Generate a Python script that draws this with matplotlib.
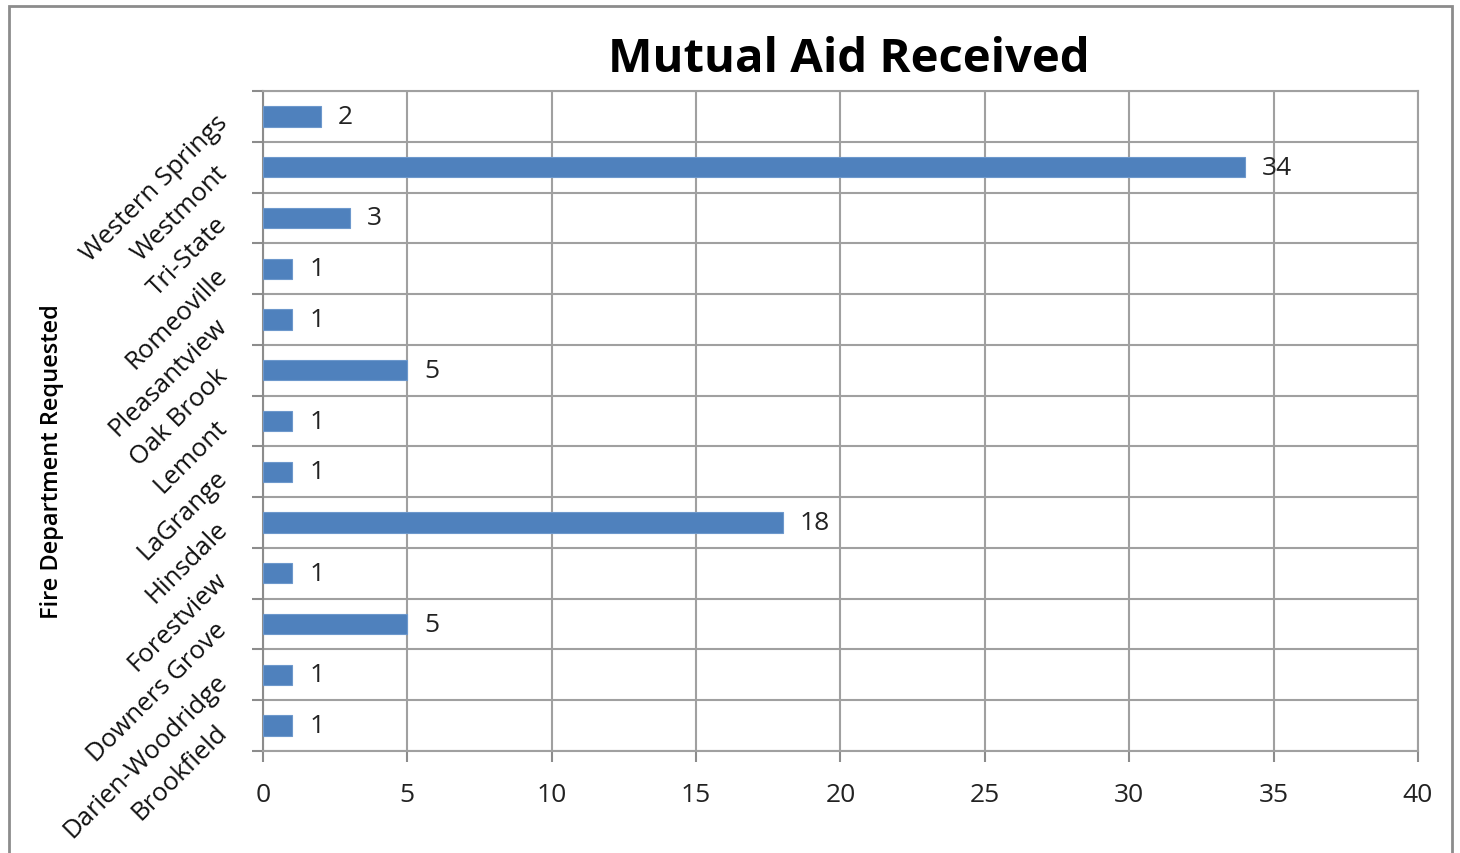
import numpy as np
import matplotlib.pyplot as plt
from matplotlib.patches import Rectangle

plt.rcParams['font.family'] = ['Open Sans', 'DejaVu Sans']

# Daten (von unten nach oben)
departments = ["Brookfield", "Darien-Woodridge", "Downers Grove", "Forestview",
               "Hinsdale", "LaGrange", "Lemont", "Oak Brook", "Pleasantview",
               "Romeoville", "Tri-State", "Westmont", "Western Springs"]
received = [1, 1, 5, 1, 18, 1, 1, 5, 1, 1, 3, 34, 2]
x_ticks = [0, 5, 10, 15, 20, 25, 30, 35, 40]

fig = plt.figure(figsize=(14.6, 8.54), dpi=100)
ax = fig.add_axes([0.1801, 0.1194, 0.7911, 0.7729])

# Rahmen um das Diagramm
fig.patches.append(Rectangle((9/1460, -0.05), 1443/1460, 1.05 - 7/854,
                             transform=fig.transFigure, fill=False,
                             edgecolor='#8c8c8c', linewidth=2))

pos = np.arange(len(departments))
ax.barh(pos, received, height=0.4, color='#4F81BD', edgecolor='#6d98cc',
        linewidth=0.8, zorder=3)

for p, v in zip(pos, received):
    ax.text(v + 0.6, p, str(v), va='center', ha='left', fontsize=19,
            color='#222222', zorder=4)

ax.set_xlim(0, 40)
ax.set_ylim(-0.5, len(departments) - 0.5)
ax.set_xticks(x_ticks)
ax.set_xticklabels([str(t) for t in x_ticks], fontsize=19, color='#222222')
ax.set_yticks(pos)
ax.set_yticklabels(departments, fontsize=18.5, rotation=45, ha='right',
                   va='center_baseline', rotation_mode='anchor', color='#111111')
ax.set_yticks(np.arange(len(departments) + 1) - 0.5, minor=True)

ax.tick_params(axis='y', which='major', length=0, pad=30)
ax.tick_params(axis='y', which='minor', length=8, color='#8c8c8c', width=1.5)
ax.tick_params(axis='x', length=8, color='#8c8c8c', width=1.5, pad=14)

ax.grid(axis='x', color='#a0a0a0', linewidth=1.5, zorder=0)
ax.grid(axis='y', which='minor', color='#a0a0a0', linewidth=1.5, zorder=0)
ax.set_axisbelow(True)
for s in ax.spines.values():
    s.set_color('#a0a0a0')
    s.set_linewidth(1.5)
ax.spines['left'].set_color('#8c8c8c')

fig.text(849/1460, 1 - 60/854, "Mutual Aid Received", fontsize=34,
         fontweight='bold', ha='center', va='center')
fig.text(52/1460, 1 - 462/854, "Fire Department Requested", rotation=90,
         fontsize=17, fontweight='semibold', ha='center', va='center')

fig.savefig("out.png", dpi=100, facecolor='white')
